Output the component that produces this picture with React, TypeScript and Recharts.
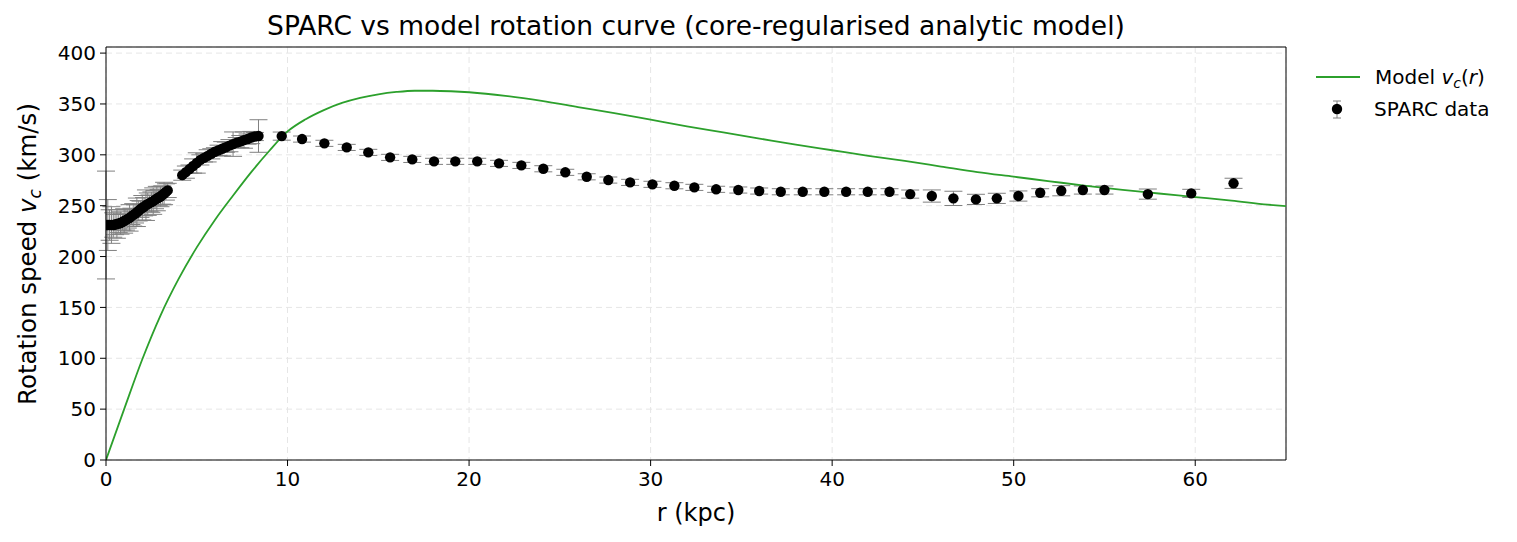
import React from 'react';
import { ComposedChart, Line, Scatter, ErrorBar, XAxis, YAxis, CartesianGrid, ReferenceLine } from 'recharts';

const FONT = "'DejaVu Sans', 'Liberation Sans', sans-serif";
const W = 1517;
const H = 542;

const xTicks = [0, 10, 20, 30, 40, 50, 60];
const yTicks = [0, 50, 100, 150, 200, 250, 300, 350, 400];
const X_MAX = 65;
const Y_MAX = 406;

// SPARC data (r in kpc, v in km/s, error in km/s)
const sparcR = [
  0.0, 0.1, 0.2, 0.3, 0.4, 0.5, 0.6, 0.7, 0.8, 0.9, 1.0, 1.1, 1.2, 1.3, 1.4, 1.5, 1.6, 1.7, 1.8, 1.9,
  2.0, 2.1, 2.2, 2.3, 2.4, 2.5, 2.6, 2.7, 2.8, 2.9, 3.0, 3.1, 3.2, 3.3, 3.4,
  4.2, 4.4, 4.6, 4.8, 5.0, 5.2, 5.4, 5.6, 5.8, 6.0, 6.2, 6.4, 6.6, 6.8, 7.0, 7.2, 7.4, 7.6, 7.8, 8.0, 8.2, 8.4,
  9.68, 10.8, 12.03, 13.26, 14.45, 15.65, 16.87, 18.07, 19.24, 20.45, 21.65, 22.88, 24.09, 25.3, 26.48,
  27.67, 28.87, 30.1, 31.31, 32.41, 33.61, 34.83, 35.98, 37.17, 38.38, 39.57, 40.77, 41.96, 43.16, 44.3,
  45.49, 46.68, 47.92, 49.07, 50.26, 51.46, 52.62, 53.81, 55.0, 57.39, 59.78, 62.11,
];
const sparcV = [
  231, 231, 231, 231, 231, 231.5, 232, 232.5, 233, 234, 235, 236, 237, 238, 239.5, 241, 242, 243.5, 245, 246.5,
  248, 249, 250.5, 251.5, 252.5, 253.5, 254.5, 256, 257, 258, 259, 260.5, 262, 263.5, 265,
  280, 283, 286, 289, 292, 295, 297, 299, 301, 303, 304.5, 306, 307.5, 309, 310.5, 312, 313, 314.5, 315.5, 317, 318, 318.5,
  318.4, 315.5, 311.3, 307.3, 302.4, 297.5, 295.5, 293.6, 293.6, 293.6, 291.6, 289.6, 286.3, 282.8, 278.4,
  275.2, 272.9, 271.0, 269.6, 268.0, 266.1, 265.4, 264.4, 263.7, 263.7, 263.7, 263.7, 263.7, 263.7, 261.4,
  259.5, 257.2, 256.2, 257.2, 259.5, 262.7, 264.7, 265.4, 265.4, 261.4, 262.1, 272.0,
];
const sparcErr = [
  53, 25, 15, 18, 12, 10, 14, 9, 11, 8, 12, 10, 9, 13, 8, 11, 9, 14, 10, 8,
  12, 9, 15, 11, 8, 10, 13, 9, 12, 8, 10, 9, 11, 8, 7,
  5, 6, 4, 7, 10, 5, 4, 6, 5, 4, 5, 7, 5, 6, 12, 5, 6, 8, 5, 6, 4, 16,
  4, 3, 3, 3, 3, 3, 3, 3, 3, 3, 3, 3, 3, 3, 3,
  3, 3, 3, 3, 3, 3, 3, 3, 3, 3, 3, 3, 3, 3, 4,
  6, 7, 5, 5, 5, 4, 5, 4, 4, 5, 4, 5,
];

// Model curve
const modelR = [0, 1, 2, 3, 4, 5, 6, 7, 8, 9, 10, 11, 12, 13, 14, 15, 16, 17, 18, 19, 20, 22, 24, 26, 28, 30,
  32, 34, 36, 38, 40, 42, 44, 46, 48, 50, 52, 54, 56, 58, 60, 62, 64, 65];
const modelV = [0, 50, 99, 142, 178, 209, 236, 260, 283, 304, 323, 335, 344, 351, 356, 359.5, 361.8, 363, 363, 362.5,
  361.5, 358, 353, 347, 341, 334.5, 328, 322, 316, 310, 304.5, 299, 294, 288.5, 283, 278.5, 274, 269.5, 265.5,
  262, 258.5, 255, 251, 249.5];

const sparcData = sparcR.map((r, i) => ({ r, v: sparcV[i], err: sparcErr[i] }));
const modelData = modelR.map((r, i) => ({ r, v: modelV[i] }));

const Dot = (props: any) => {
  const { cx, cy } = props;
  if (cx == null || cy == null) return null;
  return <circle cx={cx} cy={cy} r={5.2} fill="#000" />;
};

export default function App() {
  const tickStyle = { fontSize: 20, fill: '#000', fontFamily: FONT };
  return (
    <div style={{ position: 'absolute', left: 0, top: 0, width: W, height: H, background: '#fff' }}>
      <ComposedChart
        width={W}
        height={H}
        margin={{ top: 47, right: 231, bottom: 42, left: 46 }}
      >
        <CartesianGrid stroke="#e6e6e6" strokeDasharray="6 4" />
        <XAxis
          type="number"
          dataKey="r"
          domain={[0, X_MAX]}
          ticks={xTicks}
          allowDataOverflow
          height={40}
          tick={tickStyle}
          tickSize={6}
          tickMargin={6}
          stroke="#000"
          tickLine={{ stroke: '#000' }}
        />
        <YAxis
          type="number"
          dataKey="v"
          domain={[0, Y_MAX]}
          ticks={yTicks}
          allowDataOverflow
          width={60}
          tick={tickStyle}
          tickSize={6}
          tickMargin={4}
          stroke="#000"
          tickLine={{ stroke: '#000' }}
        />
        <ReferenceLine y={Y_MAX} stroke="#000" strokeWidth={1} />
        <ReferenceLine x={X_MAX} stroke="#000" strokeWidth={1} />
        <Scatter data={sparcData} dataKey="v" shape={Dot} isAnimationActive={false}>
          <ErrorBar dataKey="err" direction="y" width={9} stroke="#808080" strokeWidth={1} />
        </Scatter>
        <Line
          data={modelData}
          dataKey="v"
          type="monotone"
          stroke="#2ca02c"
          strokeWidth={1.8}
          dot={false}
          activeDot={false}
          isAnimationActive={false}
        />
      </ComposedChart>
      <svg
        width={W}
        height={H}
        style={{ position: 'absolute', left: 0, top: 0, pointerEvents: 'none' }}
        fontFamily={FONT}
      >
        <text x={696} y={35} textAnchor="middle" fontSize={26.5} fill="#000">
          SPARC vs model rotation curve (core-regularised analytic model)
        </text>
        <text x={696} y={521} textAnchor="middle" fontSize={24} fill="#000">
          r (kpc)
        </text>
        <text
          x={36}
          y={254}
          textAnchor="middle"
          fontSize={24.5}
          fill="#000"
          transform="rotate(-90, 36, 254)"
        >
          Rotation speed <tspan fontStyle="italic">v</tspan>
          <tspan fontStyle="italic" fontSize={17} dy={5}>c</tspan>
          <tspan dy={-5}> (km/s)</tspan>
        </text>
        {/* Legend */}
        <line x1={1316} y1={77} x2={1360} y2={77} stroke="#2ca02c" strokeWidth={1.8} />
        <text x={1375} y={84} fontSize={20} fill="#000">
          Model <tspan fontStyle="italic">v</tspan>
          <tspan fontStyle="italic" fontSize={14} dy={4}>c</tspan>
          <tspan dy={-4}>(</tspan>
          <tspan fontStyle="italic">r</tspan>)
        </text>
        <line x1={1337} y1={101} x2={1337} y2={118} stroke="#808080" strokeWidth={1} />
        <line x1={1333} y1={101} x2={1341} y2={101} stroke="#808080" strokeWidth={1} />
        <line x1={1333} y1={118} x2={1341} y2={118} stroke="#808080" strokeWidth={1} />
        <circle cx={1337} cy={109} r={5.2} fill="#000" />
        <text x={1374} y={116} fontSize={20} fill="#000">SPARC data</text>
      </svg>
    </div>
  );
}
